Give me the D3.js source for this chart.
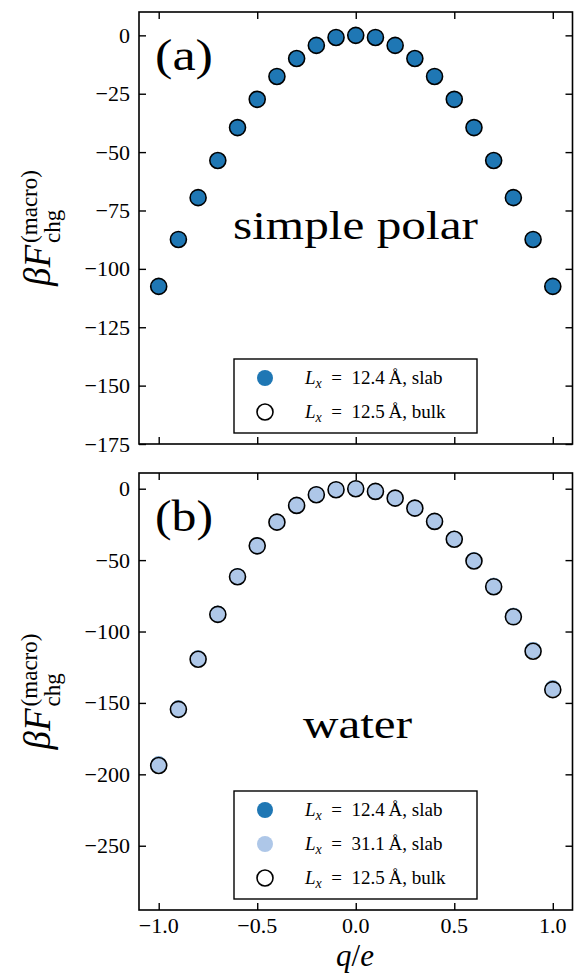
<!DOCTYPE html>
<meta charset="utf-8">
<title>Macroscopic charging free energy</title>
<style>
  body { margin: 0; background: #fff; }
  text { font-family: "Liberation Serif", "DejaVu Serif", serif; fill: #000; }
  .spine { fill: none; stroke: #000; stroke-width: 1.6px; }
  .tick line { stroke: #000; stroke-width: 1.4px; }
</style>
<body>
<script src="https://d3js.org/d3.v7.min.js"></script>
<script>
  var width = 574,
    height = 975;

  // charge values q/e
  var qVals = [-1.0, -0.9, -0.8, -0.7, -0.6, -0.5, -0.4, -0.3, -0.2, -0.1, 0.0,
    0.1, 0.2, 0.3, 0.4, 0.5, 0.6, 0.7, 0.8, 0.9, 1.0];

  // panel (a): simple polar
  var polarSlab124 = [-107.5, -87.4, -69.5, -53.6, -39.5, -27.4, -17.6, -9.9, -4.3, -0.9, 0.0,
    -0.9, -4.3, -9.9, -17.6, -27.4, -39.5, -53.6, -69.5, -87.4, -107.5];
  var polarBulk125 = [-107.5, -87.4, -69.5, -53.6, -39.5, -27.4, -17.6, -9.9, -4.3, -0.9, 0.0,
    -0.9, -4.3, -9.9, -17.6, -27.4, -39.5, -53.6, -69.5, -87.4, -107.5];

  // panel (b): water
  var waterSlab124 = [-193.0, -153.8, -118.8, -87.5, -61.3, -39.8, -23.3, -11.6, -4.1, -0.7, 0.0,
    -1.8, -6.5, -13.4, -22.6, -35.0, -50.1, -68.0, -88.9, -112.9, -139.8];
  var waterSlab311 = [-193.0, -153.8, -118.8, -87.5, -61.3, -39.8, -23.3, -11.6, -4.1, -0.7, 0.0,
    -1.8, -6.5, -13.4, -22.6, -35.0, -50.1, -68.0, -88.9, -112.9, -139.8];
  var waterBulk125 = [-193.8, -154.5, -119.4, -88.0, -61.6, -40.0, -23.4, -11.7, -4.2, -0.7, 0.0,
    -1.9, -6.6, -13.6, -22.9, -35.4, -50.6, -68.6, -89.7, -113.8, -140.7];

  var xTicks = [-1.0, -0.5, 0.0, 0.5, 1.0];
  var yTicksA = [0, -25, -50, -75, -100, -125, -150, -175];
  var yTicksB = [0, -50, -100, -150, -200, -250];

  var dark = "#1f77b4", light = "#aec7e8";

  var svg = d3.select("body").append("svg")
    .attr("width", width)
    .attr("height", height);

  var left = 139, right = 572.5;
  var x = d3.scaleLinear().domain([-1.1, 1.1]).range([left, right]);

  function fmt(d) {
    return (d < 0 ? "\u2212" : "") + Math.abs(d);
  }
  function fmtX(d) {
    return (d < 0 ? "\u2212" : "") + Math.abs(d).toFixed(1);
  }

  function panel(opts) {
    var y = d3.scaleLinear().domain(opts.ydomain).range([opts.bottom, opts.top]);
    var g = svg.append("g");
    var tl = 7;

    // ticks inward on all four sides
    g.append("g").attr("class", "tick")
      .attr("transform", "translate(0," + opts.bottom + ")")
      .call(d3.axisBottom(x).tickValues(xTicks).tickSize(-tl).tickFormat(""))
      .call(a => a.select(".domain").remove());
    g.append("g").attr("class", "tick")
      .attr("transform", "translate(0," + opts.top + ")")
      .call(d3.axisTop(x).tickValues(xTicks).tickSize(-tl).tickFormat(""))
      .call(a => a.select(".domain").remove());
    g.append("g").attr("class", "tick")
      .attr("transform", "translate(" + left + ",0)")
      .call(d3.axisLeft(y).tickValues(opts.yticks).tickSize(-tl).tickFormat(""))
      .call(a => a.select(".domain").remove());
    g.append("g").attr("class", "tick")
      .attr("transform", "translate(" + right + ",0)")
      .call(d3.axisRight(y).tickValues(opts.yticks).tickSize(-tl).tickFormat(""))
      .call(a => a.select(".domain").remove());

    // y tick labels
    g.selectAll(".ylab").data(opts.yticks).enter().append("text")
      .attr("x", 130)
      .attr("y", d => y(d) + 7.5)
      .attr("text-anchor", "end")
      .style("font-size", "22px")
      .text(fmt);

    if (opts.xlabels) {
      g.selectAll(".xlab").data(xTicks).enter().append("text")
        .attr("x", d => x(d))
        .attr("y", opts.bottom + 23)
        .attr("text-anchor", "middle")
        .style("font-size", "22px")
        .text(fmtX);
    }

    g.append("rect").attr("class", "spine")
      .attr("x", left).attr("y", opts.top)
      .attr("width", right - left).attr("height", opts.bottom - opts.top);

    // series
    opts.series.forEach(function(s) {
      g.selectAll(null).data(qVals).enter().append("circle")
        .attr("cx", d => x(d))
        .attr("cy", (d, i) => y(s.values[i]))
        .attr("r", 8)
        .style("fill", s.fill)
        .style("stroke", s.stroke)
        .style("stroke-width", s.stroke == "none" ? 0 : 1.6);
    });

    // panel tag and system name
    g.append("text").attr("x", 155).attr("y", opts.top + 58)
      .attr("textLength", 58).attr("lengthAdjust", "spacingAndGlyphs")
      .style("font-size", "44px").text(opts.tag);
    g.append("text").attr("x", opts.nameX).attr("y", opts.nameY)
      .attr("textLength", opts.nameW).attr("lengthAdjust", "spacingAndGlyphs")
      .style("font-size", "41px").text(opts.name);

    // y axis label
    var cy = (opts.top + opts.bottom) / 2;
    var lab = g.append("g").attr("transform", "translate(50," + cy + ") rotate(-90)");
    var main = lab.append("text").style("font-size", "37px").style("font-style", "italic").text("\u03b2F");
    var sup = lab.append("text").style("font-size", "23px").attr("y", -13).text("(macro)");
    var sub = lab.append("text").style("font-size", "23px").attr("y", 10).text("chg");
    var lm = main.node().getComputedTextLength(),
      ls = sup.node().getComputedTextLength();
    var start = -(lm + ls + 2) / 2;
    main.attr("x", start);
    sup.attr("x", start + lm + 2);
    sub.attr("x", start + lm + 2);

    // legend
    var L = opts.legend;
    var rowH = 34;
    var lg = g.append("g");
    lg.append("rect")
      .attr("x", 234).attr("y", L.top)
      .attr("width", 243).attr("height", L.items.length * rowH + 6)
      .style("fill", "#fff").style("stroke", "#000").style("stroke-width", 1.4);
    L.items.forEach(function(it, i) {
      var yy = L.top + 19 + i * rowH;
      lg.append("circle").attr("cx", 265).attr("cy", yy).attr("r", 8)
        .style("fill", it.fill).style("stroke", it.stroke)
        .style("stroke-width", it.stroke == "none" ? 0 : 1.6);
      var t = lg.append("text").attr("x", 305).attr("y", yy + 6).style("font-size", "19px");
      t.append("tspan").style("font-style", "italic").text("L");
      t.append("tspan").style("font-style", "italic").style("font-size", "14px").attr("dy", 4).text("x");
      t.append("tspan").attr("dy", -4).text("\u2002=\u2002" + it.len + "\u2009\u00c5, " + it.kind);
    });
  }

  panel({
    top: 12, bottom: 444, ydomain: [-175, 10], yticks: yTicksA,
    tag: "(a)", name: "simple polar", nameX: 233, nameY: 239, nameW: 245, xlabels: false,
    series: [
      { values: polarSlab124, fill: dark, stroke: "none" },
      { values: polarBulk125, fill: "none", stroke: "#000" }
    ],
    legend: { top: 359, items: [
      { fill: dark, stroke: "none", len: "12.4", kind: "slab" },
      { fill: "none", stroke: "#000", len: "12.5", kind: "bulk" }
    ] }
  });

  panel({
    top: 473, bottom: 910, ydomain: [-295, 11], yticks: yTicksB,
    tag: "(b)", name: "water", nameX: 303, nameY: 738, nameW: 109, xlabels: true,
    series: [
      { values: waterSlab124, fill: dark, stroke: "none" },
      { values: waterSlab311, fill: light, stroke: "none" },
      { values: waterBulk125, fill: "none", stroke: "#000" }
    ],
    legend: { top: 791, items: [
      { fill: dark, stroke: "none", len: "12.4", kind: "slab" },
      { fill: light, stroke: "none", len: "31.1", kind: "slab" },
      { fill: "none", stroke: "#000", len: "12.5", kind: "bulk" }
    ] }
  });

  // x axis label
  var xl = svg.append("text").attr("x", 355).attr("y", 966)
    .attr("text-anchor", "middle").style("font-size", "31px");
  xl.append("tspan").style("font-style", "italic").text("q");
  xl.append("tspan").text("/");
  xl.append("tspan").style("font-style", "italic").text("e");
</script>
</body>
